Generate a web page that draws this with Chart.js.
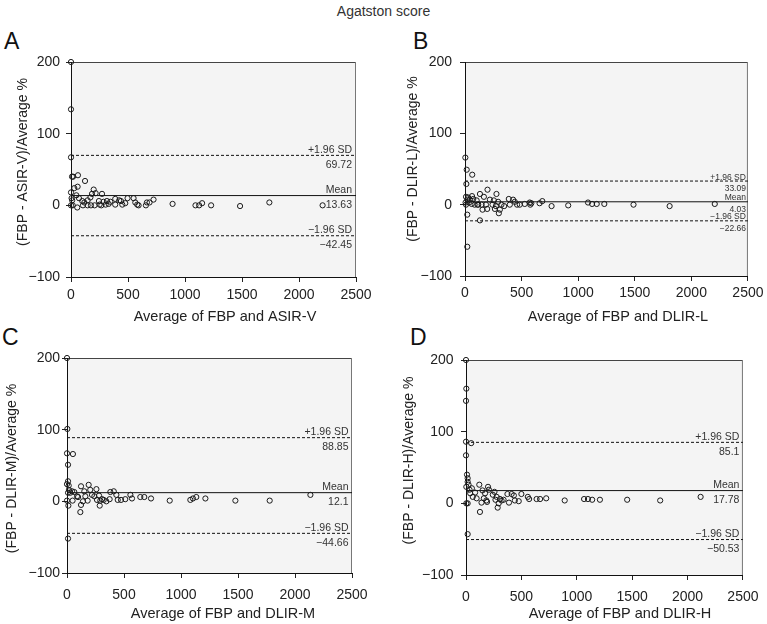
<!DOCTYPE html>
<html lang="en">
<head>
    <meta charset="UTF-8">
    <title>Agatston score</title>
    <script src="https://cdn.jsdelivr.net/npm/chart.js"></script>
    <style>
        body {
            margin: 0;
            background: #fff;
            font-family: 'Liberation Sans', Arial, sans-serif;
        }
        #wrap { position: relative; width: 767px; height: 624px; }
        canvas { position: absolute; }
        .letter { position: absolute; font-size: 23px; line-height: 1; color: #111; }
        #title { position: absolute; left: 0; width: 767px; top: 4px; text-align: center; font-size: 14px; line-height: 14px; color: #333; }
    </style>
</head>
<body>
<div id="wrap">
    <div id="title">Agatston score</div>
    <div class="letter" style="left:4px;top:30px">A</div>
    <div class="letter" style="left:413px;top:30px">B</div>
    <div class="letter" style="left:2px;top:326px">C</div>
    <div class="letter" style="left:410px;top:326px">D</div>
    <canvas id="chartA" width="380" height="330" style="left:0;top:0"></canvas>
    <canvas id="chartB" width="387" height="330" style="left:380px;top:0"></canvas>
    <canvas id="chartC" width="380" height="294" style="left:0;top:330px"></canvas>
    <canvas id="chartD" width="387" height="294" style="left:380px;top:330px"></canvas>
</div>

<script>
    // tick values shared by all four panels
    const xTicks = [0, 500, 1000, 1500, 2000, 2500];
    const yTicks = [-100, 0, 100, 200];
    const limitNames = ['+1.96 SD', 'Mean', '\u22121.96 SD'];

    // A: FBP vs ASIR-V
    const aX = [0, 0, 0, 9, 18, 61, 123, 58, 29, 0, 5, 10, 15, 0, 47, 70, 55, 117, 146, 170, 184, 199, 216, 272, 99, 105, 146, 175, 207, 245, 251, 266, 286, 304, 315, 330, 345, 388, 388, 423, 438, 450, 476, 496, 549, 564, 581, 593, 657, 666, 689, 724, 891, 1092, 1124, 1150, 1229, 1483, 1740, 2207];
    const aY = [200, 134, 67, 40, 40, 42, 34, 26, 24, 18, 10, 7, 0, 0, 14, 10, -3, 4, 7, 11, 16, 22, 17, 16, 6, 0, 0, 0, 0, 6, 1, 0, 5, 1, 6, 2, 5, 9, 1, 7, 6, 1, 3, 10, 10, 4, 1, 0, 0, 4, 4, 8, 2, 0, 0, 3, 0, -1, 4, 0];
    const aLimits = [69.72, 13.63, -42.45];

    // B: FBP vs DLIR-L
    const bX = [3, 15, 64, 12, 9, 29, 20, 44, 62, 73, 9, 20, 20, 59, 103, 117, 132, 147, 155, 167, 185, 199, 196, 132, 220, 243, 255, 273, 278, 264, 293, 299, 308, 322, 346, 387, 396, 425, 440, 460, 484, 528, 572, 577, 586, 659, 683, 765, 912, 1087, 1123, 1164, 1231, 1489, 1808, 2207, 5, 35, 85, 110];
    const bY = [66, 49, 42, 29, 11, 10, 7, 7, 12, 8, 0, -14, -59, 1, 6, 0, 15, 0, -7, 11, 0, 21, -6, -22, 7, 0, 6, -2, 15, -6, 4, -12, -7, 0, -2, 8, 0, 7, 4, 0, 0, 1, 3, 0, 2, 2, 5, -2, -1, 3, 1, 1, 1, 0, -2, 1, 3, 3, 0, 0];
    const bLimits = [33.09, 4.03, -22.66];

    // C: FBP vs DLIR-M
    const cX = [0, 3, 0, 52, 9, 0, 9, 15, 17, 9, 29, 0, 12, 9, 44, 64, 49, 88, 97, 117, 123, 123, 140, 152, 161, 181, 190, 204, 219, 240, 258, 263, 281, 287, 292, 307, 322, 345, 374, 380, 410, 433, 445, 474, 511, 556, 570, 643, 678, 737, 901, 1082, 1105, 1134, 1214, 1477, 1778, 2135];
    const cY = [200, 101, 67, 66, 51, 24, 28, 22, 16, 12, 12, 1, -6, -52, 14, 13, 1, 7, 6, -15, 21, -5, 0, 14, 7, 1, 23, 16, 9, 7, 17, 2, 8, -6, 1, 3, 2, 0, 3, 13, 14, 9, 2, 2, 3, 9, 4, 6, 6, 4, 1, 2, 4, 6, 4, 1, 1, 9];
    const cLimits = [88.85, 12.1, -44.66];

    // D: FBP vs DLIR-H
    const dX = [0, 3, 0, 0, 47, 0, 9, 15, 15, 3, 23, 32, 53, 3, 15, 15, 38, 61, 82, 96, 120, 126, 140, 149, 161, 172, 184, 199, 207, 190, 242, 257, 266, 277, 286, 295, 307, 321, 339, 374, 388, 412, 432, 441, 476, 500, 558, 570, 637, 669, 724, 891, 1066, 1101, 1139, 1209, 1455, 1753, 2118];
    const dY = [200, 160, 143, 86, 84, 67, 40, 35, 30, 23, 26, 19, 21, 0, 0, -43, 14, 9, 15, 7, 26, -12, 1, 18, 7, 14, 4, 23, 19, 2, 12, 16, 5, 9, -6, 0, 6, 4, 5, 13, 1, 13, 11, 4, 3, 13, 9, 6, 6, 6, 7, 4, 6, 6, 5, 5, 5, 4, 9];
    const dLimits = [85.1, 17.78, -50.53];

    Chart.defaults.font.family = "'Liberation Sans', Arial, sans-serif";

    const minus = v => String(v).replace('-', '\u2212');

    // grey plot box, limit labels and axis titles
    const framePlugin = {
        id: 'frame',
        beforeDraw(chart) {
            const { ctx, chartArea: a } = chart;
            ctx.save();
            ctx.fillStyle = '#f4f4f4';
            ctx.fillRect(a.left, a.top, a.right - a.left, a.bottom - a.top);
            ctx.strokeStyle = '#444';
            ctx.lineWidth = 1;
            ctx.beginPath();
            ctx.moveTo(a.left, a.top + 0.5);
            ctx.lineTo(a.right - 0.5, a.top + 0.5);
            ctx.stroke();
            ctx.strokeStyle = '#777';
            ctx.beginPath();
            ctx.moveTo(a.right - 0.5, a.top);
            ctx.lineTo(a.right - 0.5, a.bottom);
            ctx.stroke();
            ctx.restore();
        },
        afterDraw(chart, args, o) {
            const { ctx, chartArea: a, scales } = chart;
            ctx.save();
            ctx.fillStyle = '#333';
            ctx.textAlign = 'right';
            ctx.textBaseline = 'alphabetic';
            ctx.font = o.labelSize + "px 'Liberation Sans', Arial, sans-serif";
            o.limits.forEach((v, i) => {
                const y = scales.y.getPixelForValue(v);
                ctx.fillText(limitNames[i], a.right - o.labelInset, y - o.nameGap);
                ctx.fillText(minus(v), a.right - o.labelInset, y + o.valueGap);
            });
            ctx.fillStyle = '#222';
            ctx.textAlign = 'center';
            ctx.textBaseline = 'middle';
            ctx.font = "14.5px 'Liberation Sans', Arial, sans-serif";
            ctx.fillText(o.xTitle, o.xTitlePos[0], o.xTitlePos[1]);
            ctx.font = "14px 'Liberation Sans', Arial, sans-serif";
            ctx.translate(o.yTitlePos[0], o.yTitlePos[1]);
            ctx.rotate(-Math.PI / 2);
            ctx.fillText(o.yTitle, 0, 0);
            ctx.restore();
        }
    };

    function makePanel(id, xs, ys, limits, p) {
        const points = xs.map((x, i) => ({ x: x, y: ys[i] }));
        const limitSets = limits.map((v, i) => ({
            data: [{ x: xTicks[0], y: v }, { x: xTicks[xTicks.length - 1], y: v }],
            showLine: true,
            borderColor: '#111',
            borderWidth: 1,
            borderDash: i === 1 ? [] : [3, 2],
            pointRadius: 0
        }));
        const canvas = document.getElementById(id);
        new Chart(canvas.getContext('2d'), {
            type: 'scatter',
            data: {
                datasets: [{
                    data: points,
                    clip: false,
                    pointRadius: 2.6,
                    borderWidth: 1,
                    borderColor: '#1a1a1a',
                    backgroundColor: 'rgba(0,0,0,0)'
                }].concat(limitSets)
            },
            options: {
                responsive: false,
                animation: false,
                events: [],
                layout: {
                    padding: { left: 0, bottom: 0, top: p.area.top, right: canvas.width - p.area.right }
                },
                plugins: {
                    legend: { display: false },
                    tooltip: { enabled: false },
                    frame: {
                        limits: limits,
                        labelSize: p.labelSize,
                        labelInset: p.labelInset,
                        nameGap: p.nameGap,
                        valueGap: p.valueGap,
                        xTitle: p.xTitle,
                        yTitle: p.yTitle,
                        xTitlePos: p.xTitlePos,
                        yTitlePos: p.yTitlePos
                    }
                },
                scales: {
                    x: {
                        type: 'linear',
                        min: xTicks[0],
                        max: xTicks[xTicks.length - 1],
                        afterBuildTicks: s => { s.ticks = xTicks.map(v => ({ value: v })); },
                        afterFit: s => { s.height = canvas.height - p.area.bottom; },
                        ticks: { color: '#222', font: { size: 14 }, padding: p.xTickPad, maxRotation: 0, callback: v => String(v) },
                        grid: { drawOnChartArea: false, tickLength: 5, color: '#222' },
                        border: { color: '#111' }
                    },
                    y: {
                        type: 'linear',
                        min: yTicks[0],
                        max: yTicks[yTicks.length - 1],
                        afterBuildTicks: s => { s.ticks = yTicks.map(v => ({ value: v })); },
                        afterFit: s => { s.width = p.area.left; },
                        ticks: { color: '#222', font: { size: 14 }, padding: p.yTickPad, callback: v => minus(v) },
                        grid: { drawOnChartArea: false, tickLength: 5, color: '#222' },
                        border: { color: '#111' }
                    }
                }
            },
            plugins: [framePlugin]
        });
    }

    makePanel('chartA', aX, aY, aLimits, {
        area: { left: 71, top: 62, right: 356, bottom: 277 },
        xTickPad: 5, yTickPad: 6,
        labelSize: 10.5, labelInset: 4, nameGap: 2.5, valueGap: 12.5,
        xTitle: 'Average of FBP and ASIR-V', xTitlePos: [225, 317],
        yTitle: '(FBP - ASIR-V)/Average %', yTitlePos: [23, 162]
    });
    makePanel('chartB', bX, bY, bLimits, {
        area: { left: 85, top: 62, right: 369, bottom: 276 },
        xTickPad: 3.5, yTickPad: 8,
        labelSize: 8.5, labelInset: 2, nameGap: 1.5, valueGap: 10,
        xTitle: 'Average of FBP and DLIR-L', xTitlePos: [238, 317],
        yTitle: '(FBP - DLIR-L)/Average %', yTitlePos: [33, 159]
    });
    makePanel('chartC', cX, cY, cLimits, {
        area: { left: 67, top: 28, right: 352, bottom: 243 },
        xTickPad: 9, yTickPad: 2,
        labelSize: 10.5, labelInset: 3.5, nameGap: 2.5, valueGap: 12.5,
        xTitle: 'Average of FBP and DLIR-M', xTitlePos: [223, 284],
        yTitle: '(FBP - DLIR-M)/Average %', yTitlePos: [12, 138.5]
    });
    makePanel('chartD', dX, dY, dLimits, {
        area: { left: 86, top: 30, right: 371, bottom: 245 },
        xTickPad: 8.5, yTickPad: 7.5,
        labelSize: 10.5, labelInset: 3.5, nameGap: 2.5, valueGap: 12.5,
        xTitle: 'Average of FBP and DLIR-H', xTitlePos: [240, 284],
        yTitle: '(FBP - DLIR-H)/Average %', yTitlePos: [29, 130.5]
    });
</script>
</body>
</html>
